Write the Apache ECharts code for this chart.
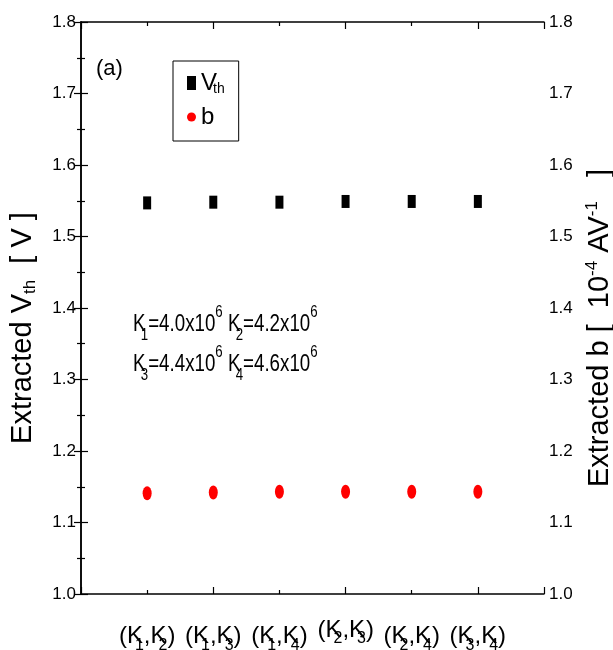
<!DOCTYPE html>
<html>
<head>
<meta charset="utf-8">
<script src="https://cdn.jsdelivr.net/npm/echarts@6/dist/echarts.min.js"></script>
<style>
  html, body { margin: 0; padding: 0; background: #fff; }
  #main { width: 613px; height: 650px; }
</style>
</head>
<body>
<div id="main"></div>
<script>
// x 位置和对应的 (Ki,Kj) 组合
var pairPos = [1, 2, 3, 4, 5, 6]
var pairLabels = [['1', '2'], ['1', '3'], ['1', '4'], ['2', '3'], ['2', '4'], ['3', '4']]
// 提取的 Vth (左轴) 和 b (右轴)
var vthValues = [1.547, 1.548, 1.548, 1.549, 1.549, 1.549]
var bValues = [1.141, 1.142, 1.143, 1.143, 1.143, 1.143]
// 坐标轴范围
var yMin = 1.0, yMax = 1.8, yStep = 0.1
var xMin = 0, xMax = 7

var font = 'Liberation Sans, Arial, sans-serif'
var ellipse = 'path://M50,0A50,50 0 1,1 50,100A50,50 0 1,1 50,0Z'

var myChart = echarts.init(document.getElementById('main'))

function yAxisCfg(pos, name, nameGap, rich) {
  return {
    type: 'value', position: pos, min: yMin, max: yMax, interval: yStep,
    name: name, nameLocation: 'middle', nameGap: nameGap, nameRotate: 90,
    nameTextStyle: { fontFamily: font, fontSize: 29, color: '#000', rich: rich, padding: [0, 40, 0, 0] },
    axisLine: { show: true, lineStyle: { color: '#000', width: 1.5 } },
    axisTick: { show: true, inside: true, length: 7, lineStyle: { color: '#000', width: 1.2 } },
    minorTick: { show: true, splitNumber: 2, length: 4, lineStyle: { color: '#000', width: 1.2 } },
    axisLabel: { fontFamily: font, fontSize: 17, color: '#000', margin: 5, formatter: function (v) { return v.toFixed(1) } },
    splitLine: { show: false }
  }
}

var titleN = { fontFamily: font, fontSize: 29, color: '#000', lineHeight: 32, verticalAlign: 'middle' }

var option = {
  animation: false,
  backgroundColor: '#fff',
  grid: { left: 81, right: 69, top: 22, bottom: 56, outerBoundsMode: 'none' },
  legend: {
    orient: 'vertical', left: 173, top: 61,
    padding: [10, 14, 12, 14], itemGap: 9,
    borderColor: '#000', borderWidth: 1, borderRadius: 0,
    itemWidth: 9, itemHeight: 14,
    data: [{ name: 'Vth', icon: 'rect' }, { name: 'b', icon: ellipse }],
    formatter: function (name) { return name === 'Vth' ? '{n|V}{s|th}' : '{n|b}' },
    textStyle: {
      rich: {
        n: { fontFamily: font, fontSize: 24, color: '#000', lineHeight: 26, verticalAlign: 'middle' },
        s: { fontFamily: font, fontSize: 14, color: '#000', lineHeight: 14, verticalAlign: 'bottom', padding: [0, 0, 0, -4] }
      }
    }
  },
  xAxis: [
    {
      type: 'value', position: 'bottom', min: xMin, max: xMax, interval: 2,
      axisLine: { show: true, onZero: false, lineStyle: { color: '#000', width: 1.5 } },
      axisTick: { show: true, inside: true, length: 7, lineStyle: { color: '#000', width: 1.2 } },
      minorTick: { show: true, splitNumber: 2, length: 4, lineStyle: { color: '#000', width: 1.2 } },
      axisLabel: { show: false }, splitLine: { show: false }
    },
    {
      type: 'value', position: 'top', min: xMin, max: xMax, interval: 2,
      axisLine: { show: true, onZero: false, lineStyle: { color: '#000', width: 1.5 } },
      axisTick: { show: true, inside: true, length: 7, lineStyle: { color: '#000', width: 1.2 } },
      minorTick: { show: true, splitNumber: 2, length: 4, lineStyle: { color: '#000', width: 1.2 } },
      axisLabel: { show: false }, splitLine: { show: false }
    },
    {
      type: 'value', position: 'bottom', min: xMin, max: xMax, interval: 1,
      axisLine: { show: false }, axisTick: { show: false }, splitLine: { show: false },
      axisLabel: {
        margin: 24, showMinLabel: false, showMaxLabel: false,
        formatter: function (v) {
          var p = pairLabels[pairPos.indexOf(v)]
          if (!p) return ''
          // 第4个标签在原图中略微上移
          if (v === 4) {
            return '{h| }{u|(K}{su|' + p[0] + '}{u|,K}{su|' + p[1] + '}{u|)}'
          }
          return '{n|(K}{s|' + p[0] + '}{n|,K}{s|' + p[1] + '}{n|)}'
        },
        rich: {
          n: { fontFamily: font, fontSize: 24, color: '#000', lineHeight: 36, verticalAlign: 'middle' },
          s: { fontFamily: font, fontSize: 16, color: '#000', lineHeight: 16, verticalAlign: 'bottom', padding: [0, 0, 0, -8] },
          h: { fontFamily: font, fontSize: 1, lineHeight: 29, verticalAlign: 'top' },
          u: { fontFamily: font, fontSize: 24, color: '#000', lineHeight: 22, verticalAlign: 'top' },
          su: { fontFamily: font, fontSize: 16, color: '#000', lineHeight: 16, verticalAlign: 'bottom', padding: [0, 0, 0, -8] }
        }
      }
    }
  ],
  yAxis: [
    yAxisCfg('left', '{n|Extracted V}{s|th}{n|  [ V ]}', 42, {
      n: titleN,
      s: { fontFamily: font, fontSize: 17, color: '#000', lineHeight: 17, verticalAlign: 'bottom' }
    }),
    yAxisCfg('right', '{n|Extracted b [  10}{p|-4}{n| AV}{p|-1}{n|   ]}', 38, {
      n: titleN,
      p: { fontFamily: font, fontSize: 17, color: '#000', lineHeight: 17, verticalAlign: 'top' }
    })
  ],
  graphic: [
    {
      type: 'text', left: 96, top: 58,
      style: { text: '(a)', fontFamily: font, fontSize: 22, fill: '#000' }
    },
    {
      type: 'text', x: 133, y: 304, scaleX: 0.78,
      style: {
        text: '{n|K}{s|1}{n|=4.0x10}{p|6}{n| K}{s|2}{n|=4.2x10}{p|6}\n{n|K}{s|3}{n|=4.4x10}{p|6}{n| K}{s|4}{n|=4.6x10}{p|6}',
        rich: {
          n: { fontFamily: font, fontSize: 24, fill: '#000', lineHeight: 40, verticalAlign: 'middle' },
          s: { fontFamily: font, fontSize: 17, fill: '#000', lineHeight: 17, verticalAlign: 'bottom', padding: [0, 0, 0, -6] },
          p: { fontFamily: font, fontSize: 17, fill: '#000', lineHeight: 17, verticalAlign: 'top' }
        }
      }
    }
  ],
  series: [
    {
      name: 'Vth', type: 'scatter', xAxisIndex: 0, yAxisIndex: 0,
      symbol: 'rect', symbolSize: [8, 13],
      itemStyle: { color: '#000', opacity: 1 },
      data: pairPos.map(function (x, i) { return [x, vthValues[i]] })
    },
    {
      name: 'b', type: 'scatter', xAxisIndex: 0, yAxisIndex: 1,
      symbol: ellipse, symbolSize: [9, 14],
      itemStyle: { color: '#ff0000', opacity: 1 },
      data: pairPos.map(function (x, i) { return [x, bValues[i]] })
    }
  ]
}
myChart.setOption(option)
</script>
</body>
</html>
